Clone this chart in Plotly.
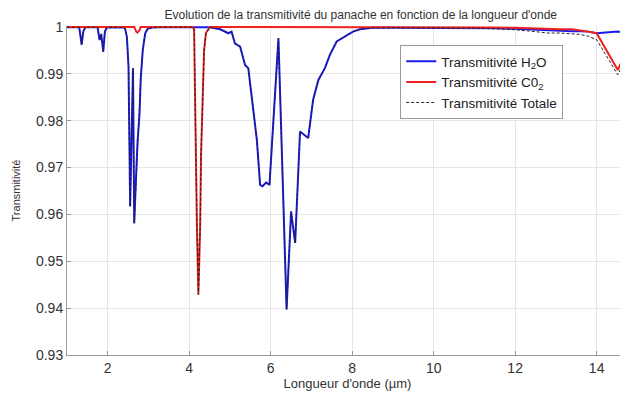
import plotly.graph_objects as go

# ---- data ----
wavelength = [
    1.00, 1.30, 1.36, 1.40, 1.45, 1.75, 1.80, 1.84, 1.89, 1.93, 1.98,
    2.40, 2.43, 2.47, 2.51, 2.53, 2.55, 2.62, 2.65, 2.70, 2.73, 2.78, 2.81,
    2.86, 2.92, 2.98, 3.10, 3.30,
    4.08, 4.12, 4.14, 4.19, 4.225, 4.27, 4.29, 4.32, 4.365, 4.41, 4.51,
    4.76, 4.96, 5.04, 5.12, 5.25, 5.37, 5.45, 5.57, 5.66, 5.74, 5.80, 5.885,
    5.97, 6.19, 6.39, 6.50, 6.60, 6.72, 6.92, 7.04, 7.17, 7.33, 7.45, 7.62,
    7.82, 8.02, 8.19, 8.50, 9.00,
    10.0, 11.0, 11.5, 12.0, 12.5, 12.8, 13.1, 13.4, 13.6, 13.8, 14.0, 14.2,
    14.52, 14.77,
]

trans_h2o = [
    0.99995, 0.99995, 0.9962, 0.9990, 0.99995, 0.99995, 0.9972, 0.9985, 0.9947, 0.9990, 0.99995,
    0.9999, 0.9995, 0.9979, 0.9915, 0.9774, 0.9617, 0.9912, 0.9581, 0.9690, 0.9752, 0.9815, 0.9890,
    0.9951, 0.99865, 0.9996, 0.9999, 0.99995,
    0.99995, 0.99995, 0.99995, 0.99995, 0.99995, 0.99995, 0.99995, 0.99995, 0.99995, 0.99995, 0.99995,
    0.9995, 0.99865, 0.9990, 0.9965, 0.9958, 0.9919, 0.9912, 0.9830, 0.9759, 0.9663, 0.9660, 0.9668,
    0.9663, 0.9976, 0.9397, 0.9606, 0.9539, 0.9777, 0.9763, 0.9844, 0.9887, 0.9912, 0.9940, 0.9969,
    0.9979, 0.9990, 0.9995, 0.9998, 0.99985,
    0.99985, 0.9998, 0.9997, 0.9996, 0.9994, 0.9992, 0.9992, 0.9991, 0.9991, 0.9990, 0.99866, 0.9988,
    0.9990, 0.9987,
]

trans_co2 = [
    1.0, 1.0, 1.0, 1.0, 1.0, 1.0, 1.0, 1.0, 1.0, 1.0, 1.0,
    1.0, 1.0, 1.0, 1.0, 1.0, 1.0, 1.0, 1.0, 0.9990, 0.9988, 0.9993, 1.0,
    1.0, 1.0, 1.0, 1.0, 1.0,
    1.0, 0.9995, 0.985, 0.957, 0.9429, 0.958, 0.9727, 0.9843, 0.9950, 0.9987, 1.0,
    1.0, 1.0, 1.0, 1.0, 1.0, 1.0, 1.0, 1.0, 1.0, 1.0, 1.0, 1.0,
    1.0, 1.0, 1.0, 1.0, 1.0, 1.0, 1.0, 1.0, 1.0, 1.0, 1.0, 1.0,
    1.0, 1.0, 1.0, 1.0, 1.0,
    1.0, 0.99995, 0.9999, 0.9998, 0.9996, 0.9995, 0.9995, 0.9995, 0.9993, 0.9990, 0.99866, 0.9956,
    0.99083, 0.9955,
]

trans_tot = [
    0.99995, 0.99995, 0.9962, 0.9990, 0.99995, 0.99995, 0.9972, 0.9985, 0.9947, 0.9990, 0.99995,
    0.9999, 0.9995, 0.9979, 0.9915, 0.9774, 0.9617, 0.9912, 0.9581, 0.9680, 0.9740, 0.9808, 0.9890,
    0.9951, 0.99865, 0.9996, 0.9999, 0.99995,
    0.99995, 0.9994, 0.985, 0.957, 0.9429, 0.958, 0.9727, 0.9843, 0.9950, 0.9987, 0.99995,
    0.9995, 0.99865, 0.9990, 0.9965, 0.9958, 0.9919, 0.9912, 0.9830, 0.9759, 0.9663, 0.9660, 0.9668,
    0.9663, 0.9976, 0.9397, 0.9606, 0.9539, 0.9777, 0.9763, 0.9844, 0.9887, 0.9912, 0.9940, 0.9969,
    0.9979, 0.9990, 0.9995, 0.9998, 0.99985,
    0.99985, 0.99975, 0.9996, 0.9994, 0.9990, 0.9987, 0.9987, 0.9986, 0.9984, 0.9980, 0.9973, 0.9944,
    0.9898, 0.9942,
]

y_ticks = [0.93, 0.94, 0.95, 0.96, 0.97, 0.98, 0.99, 1.0]
y_labels = ["0.93", "0.94", "0.95", "0.96", "0.97", "0.98", "0.99", "1"]
x_ticks = [2, 4, 6, 8, 10, 12, 14]

FONT = "Liberation Sans, Arial, sans-serif"

fig = go.Figure()
fig.add_trace(go.Scatter(x=wavelength, y=trans_h2o, mode="lines",
                         name="Transmitivité H<sub>2</sub>O",
                         line=dict(color="#1a1aee", width=2)))
fig.add_trace(go.Scatter(x=wavelength, y=trans_co2, mode="lines",
                         name="Transmitivité C0<sub>2</sub>",
                         line=dict(color="#ee2020", width=2)))
fig.add_trace(go.Scatter(x=wavelength, y=trans_tot, mode="lines",
                         name="Transmitivité Totale",
                         line=dict(color="#222222", width=1, dash="3px,2px")))

# page body has an 8px margin, so the figure is sized to the visible area
fig.update_layout(
    width=620, height=388,
    margin=dict(l=59, r=0, t=18, b=41),
    paper_bgcolor="white", plot_bgcolor="white",
    font=dict(family=FONT, color="#333333", size=13),
    title=dict(text="Evolution de la transmitivité du panache en fonction de la longueur d'onde",
               x=0.569, xanchor="center", y=0.993, yanchor="top",
               font=dict(size=12, color="#333333")),
    legend=dict(x=0.594, y=0.942, xanchor="left", yanchor="top",
                bordercolor="#9a9a9a", borderwidth=1, bgcolor="white",
                font=dict(size=13.5, color="#222222"), itemwidth=30,
                tracegroupgap=0),
    showlegend=True,
)

fig.update_xaxes(
    range=[1.0, 14.77], tickvals=x_ticks, ticks="inside", ticklen=4,
    tickcolor="#999999", showline=True, linecolor="#999999", linewidth=1,
    showgrid=True, gridcolor="#e6e6e6", gridwidth=1, zeroline=False,
    tickfont=dict(size=14), layer="below traces", automargin=False,
    title=dict(text="Longueur d'onde (µm)", font=dict(size=13), standoff=4),
)
fig.update_yaxes(
    range=[0.93, 1.0002], tickvals=y_ticks, ticktext=y_labels, ticks="inside",
    ticklen=4, tickcolor="#999999", showline=True, linecolor="#999999",
    linewidth=1, showgrid=True, gridcolor="#e6e6e6", gridwidth=1,
    zeroline=False, tickfont=dict(size=14), layer="below traces",
    automargin=False,
    title=dict(text="Transmitivité", font=dict(size=11), standoff=13),
)

fig.write_html("out.html")
